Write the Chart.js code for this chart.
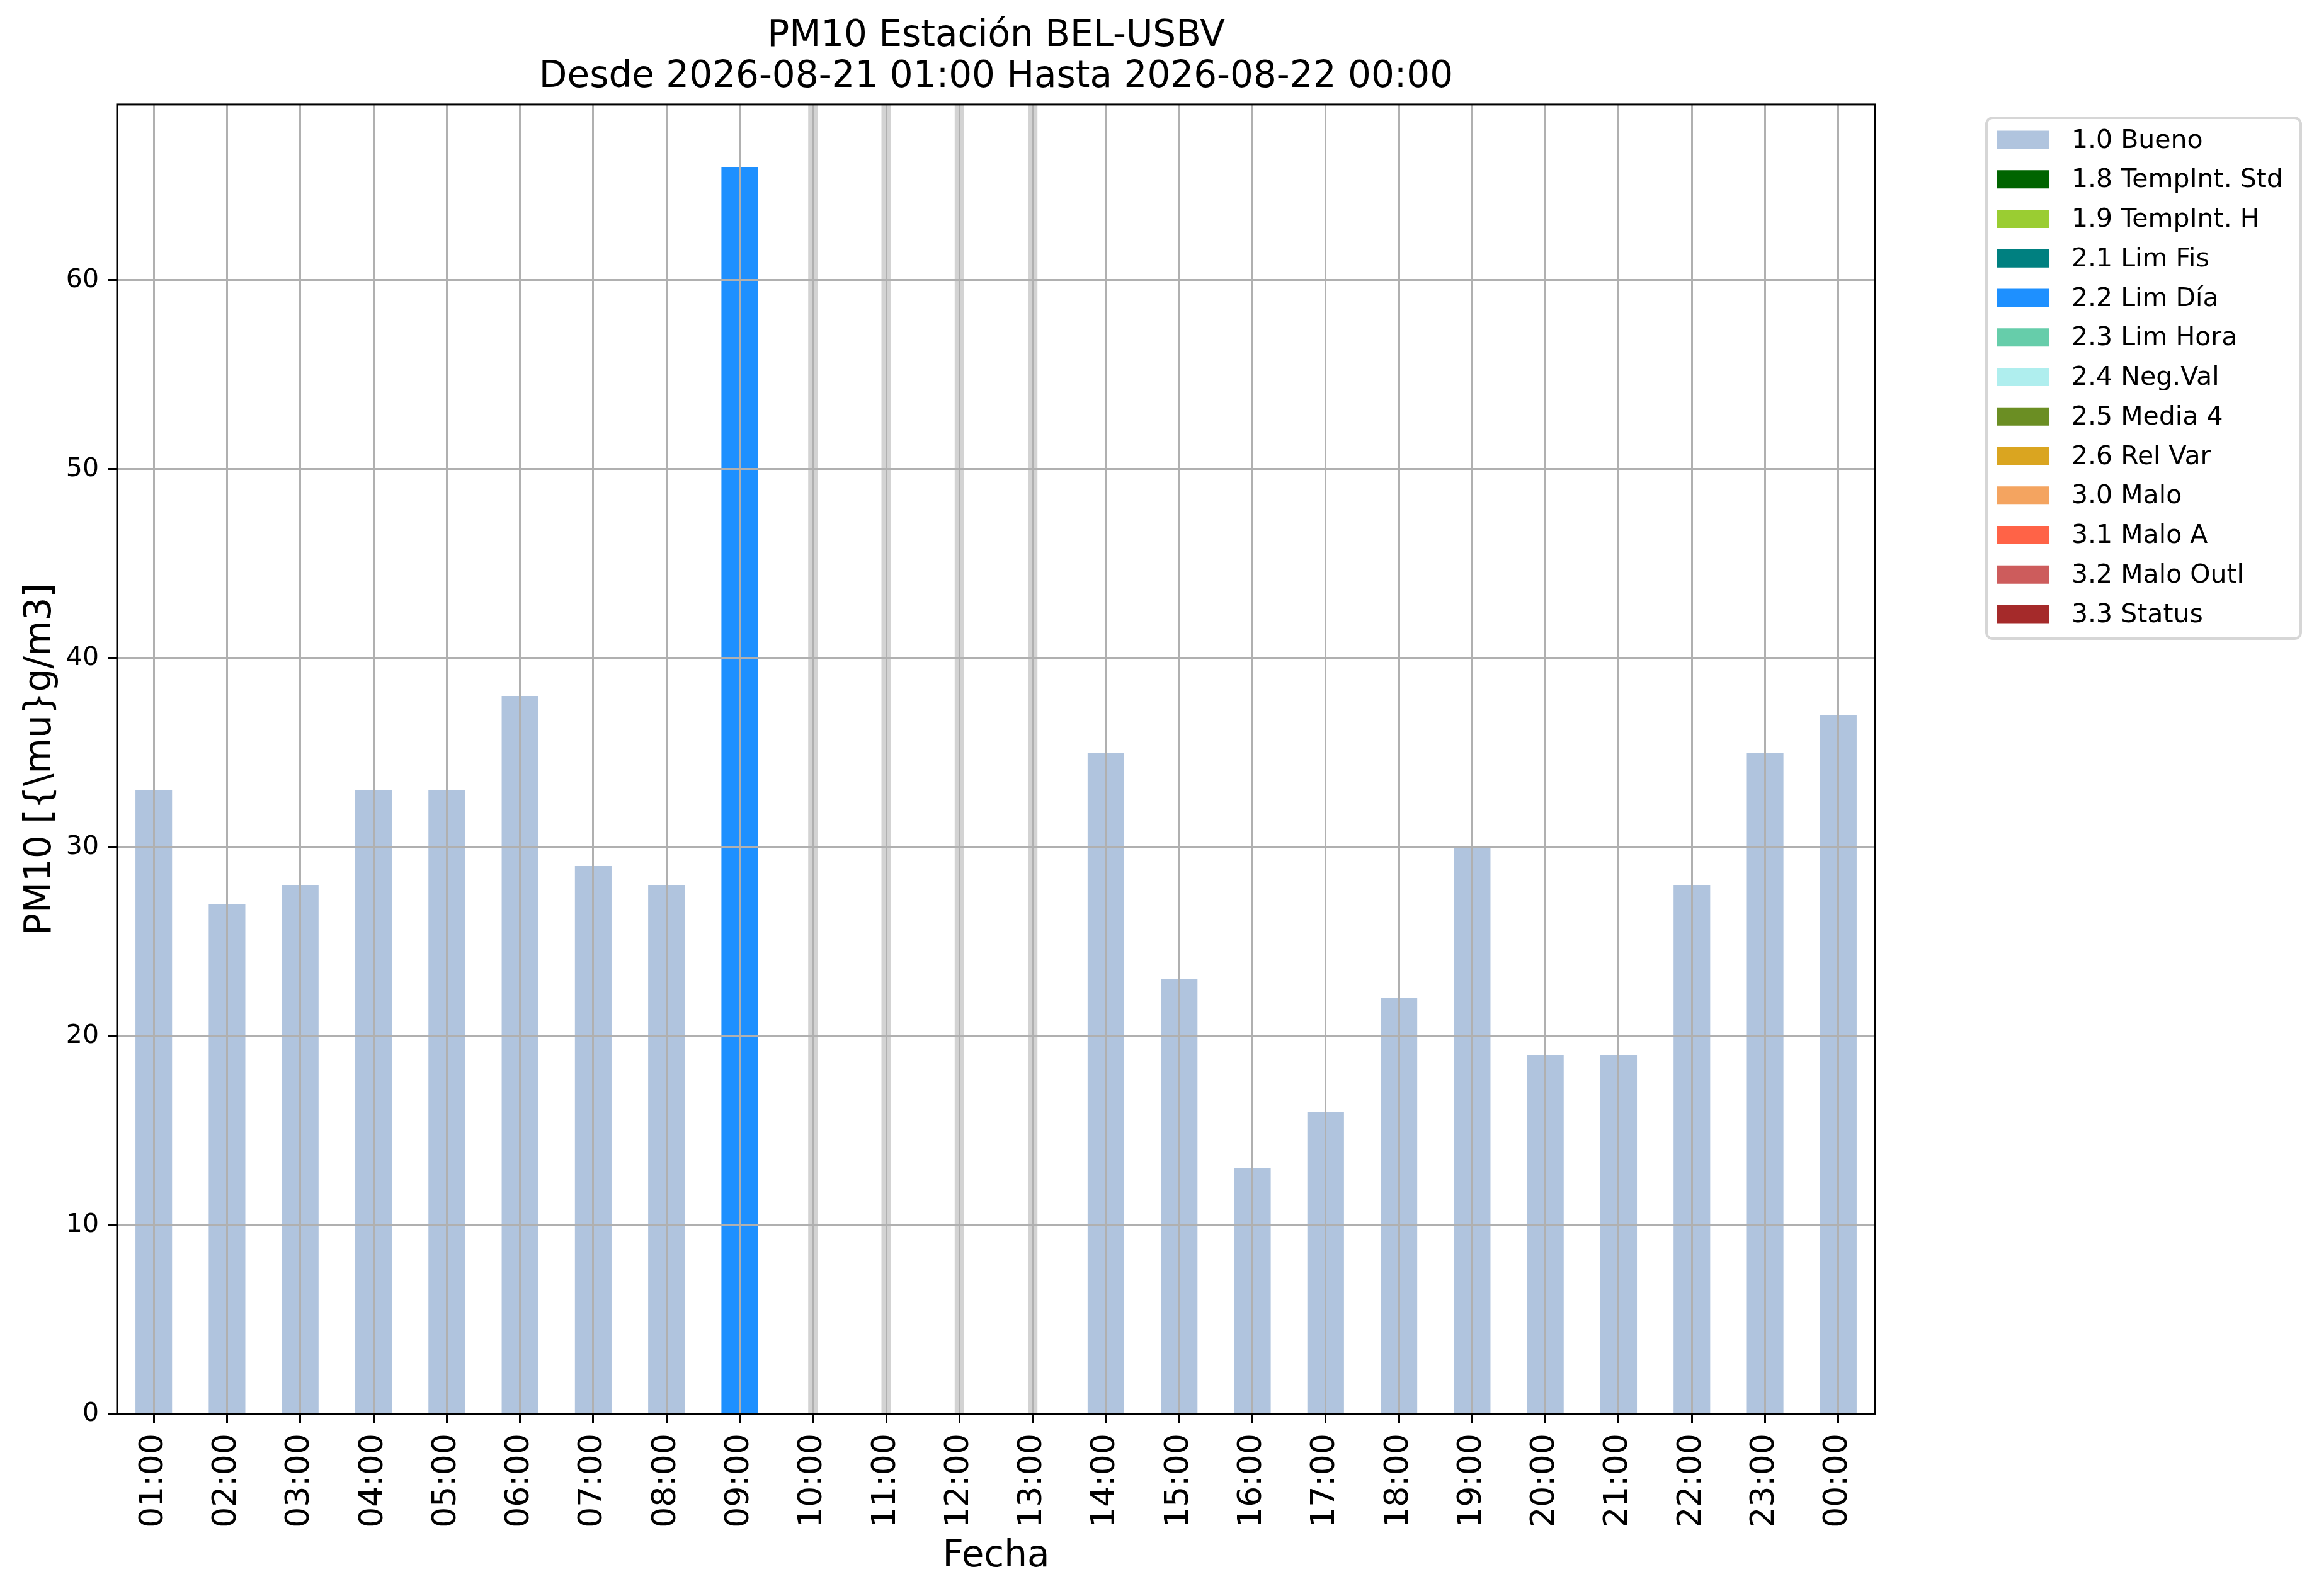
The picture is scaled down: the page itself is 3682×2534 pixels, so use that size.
<!DOCTYPE html>
<html>
<head>
<meta charset="utf-8">
<script src="https://cdn.jsdelivr.net/npm/chart.js@4.4.1/dist/chart.umd.min.js"></script>
<style>
  html, body { margin: 0; padding: 0; background: #fff; }
  canvas { display: block; }
</style>
</head>
<body>
<canvas id="chart" width="3682" height="2534"></canvas>
<script>
'use strict';

var hours = ['01:00', '02:00', '03:00', '04:00', '05:00', '06:00', '07:00', '08:00',
             '09:00', '10:00', '11:00', '12:00', '13:00', '14:00', '15:00', '16:00',
             '17:00', '18:00', '19:00', '20:00', '21:00', '22:00', '23:00', '00:00'];

// null = no data for that hour
var pm10 = [33, 27, 28, 33, 33, 38, 29, 28, 66, null, null, null, null,
            35, 23, 13, 16, 22, 30, 19, 19, 28, 35, 37];

var hourFlag = ['1.0 Bueno', '1.0 Bueno', '1.0 Bueno', '1.0 Bueno', '1.0 Bueno', '1.0 Bueno',
                '1.0 Bueno', '1.0 Bueno', '2.2 Lim Día', null, null, null, null,
                '1.0 Bueno', '1.0 Bueno', '1.0 Bueno', '1.0 Bueno', '1.0 Bueno', '1.0 Bueno',
                '1.0 Bueno', '1.0 Bueno', '1.0 Bueno', '1.0 Bueno', '1.0 Bueno'];

var flagNames = ['1.0 Bueno', '1.8 TempInt. Std', '1.9 TempInt. H', '2.1 Lim Fis', '2.2 Lim Día',
                 '2.3 Lim Hora', '2.4 Neg.Val', '2.5 Media 4', '2.6 Rel Var', '3.0 Malo',
                 '3.1 Malo A', '3.2 Malo Outl', '3.3 Status'];

var flagColors = ['#b0c4de', '#006400', '#9acd32', '#008080', '#1e90ff',
                  '#66cdaa', '#afeeee', '#6b8e23', '#daa520', '#f4a460',
                  '#ff6347', '#cd5c5c', '#a52a2a'];

var yTicks = [0, 10, 20, 30, 40, 50, 60];
var yMax = 69.3;

var FONT = '"DejaVu Sans", "Liberation Sans", sans-serif';

var datasets = flagNames.map(function (name, i) {
  return {
    label: name,
    data: pm10.map(function (v, h) { return hourFlag[h] === name ? v : null; }),
    backgroundColor: flagColors[i],
    borderWidth: 0,
    barPercentage: 0.5,
    categoryPercentage: 1.0
  };
});

// light grey strips where an hour has no value
var missingBands = {
  id: 'missingBands',
  beforeDatasetsDraw: function (chart) {
    var ctx = chart.ctx, area = chart.chartArea, x = chart.scales.x;
    var w = (x.getPixelForValue(1) - x.getPixelForValue(0)) * 0.13;
    ctx.save();
    ctx.fillStyle = '#d3d3d3';
    pm10.forEach(function (v, h) {
      if (v !== null) return;
      var px = x.getPixelForValue(h);
      ctx.fillRect(px - w / 2, area.top, w, area.bottom - area.top);
    });
    ctx.restore();
  }
};

// box round the plot + legend on the right
var frameAndLegend = {
  id: 'frameAndLegend',
  afterDraw: function (chart) {
    var ctx = chart.ctx, area = chart.chartArea;
    ctx.save();
    ctx.strokeStyle = '#000';
    ctx.lineWidth = 3;
    ctx.strokeRect(area.left, area.top, area.right - area.left, area.bottom - area.top);

    var lx = 3154, ly = 187, lw = 499, lh = 827;
    ctx.beginPath();
    ctx.roundRect(lx, ly, lw, lh, 10);
    ctx.fillStyle = '#fff';
    ctx.fill();
    ctx.lineWidth = 4;
    ctx.strokeStyle = '#d6d6d6';
    ctx.stroke();

    ctx.font = '41px ' + FONT;
    ctx.textBaseline = 'middle';
    ctx.textAlign = 'left';
    chart.data.datasets.forEach(function (ds, i) {
      var cy = 222 + i * 62.75;
      ctx.fillStyle = ds.backgroundColor;
      ctx.fillRect(3171, cy - 14.5, 83, 29);
      ctx.fillStyle = '#000';
      ctx.fillText(ds.label, 3289, cy + 2);
    });
    ctx.restore();
  }
};

new Chart(document.getElementById('chart'), {
  type: 'bar',
  data: { labels: hours, datasets: datasets },
  plugins: [missingBands, frameAndLegend],
  options: {
    responsive: false,
    animation: false,
    devicePixelRatio: 1,
    events: [],
    layout: { padding: { left: 0, right: 705, top: 0, bottom: 0 } },
    plugins: {
      legend: { display: false },
      tooltip: { enabled: false },
      title: {
        display: true,
        fullSize: false,
        text: ['PM10 Estación BEL-USBV', 'Desde 2026-08-21 01:00 Hasta 2026-08-22 00:00'],
        color: '#000',
        font: { family: FONT, size: 58, weight: 'normal', lineHeight: 1.12 },
        padding: { top: 25, bottom: 11 }
      }
    },
    scales: {
      x: {
        stacked: true,
        offset: true,
        afterFit: function (scale) { scale.height = 289; },
        grid: {
          z: 1,
          offset: false,
          color: '#b0b0b0',
          lineWidth: 3,
          drawTicks: true,
          tickLength: 15,
          tickColor: '#000',
          tickWidth: 3
        },
        border: { display: false },
        ticks: {
          autoSkip: false,
          minRotation: 90,
          maxRotation: 90,
          padding: 16,
          color: '#000',
          font: { family: FONT, size: 52 }
        },
        title: {
          display: true,
          text: 'Fecha',
          color: '#000',
          font: { family: FONT, size: 58, lineHeight: 1.2 },
          padding: { top: 0, bottom: 27 }
        }
      },
      y: {
        stacked: true,
        min: 0,
        max: yMax,
        afterFit: function (scale) { scale.width = 186; },
        afterBuildTicks: function (scale) {
          scale.ticks = yTicks.map(function (v) { return { value: v }; });
        },
        grid: {
          z: 1,
          color: '#b0b0b0',
          lineWidth: 3,
          tickLength: 15,
          tickColor: '#000',
          tickWidth: 3
        },
        border: { display: false },
        ticks: {
          padding: 14,
          color: '#000',
          font: { family: FONT, size: 41 }
        },
        title: {
          display: true,
          text: 'PM10 [{\\mu}g/m3]',
          color: '#000',
          font: { family: FONT, size: 58, lineHeight: 1.2 },
          padding: { top: 30, bottom: 0 }
        }
      }
    }
  }
});
</script>
</body>
</html>
